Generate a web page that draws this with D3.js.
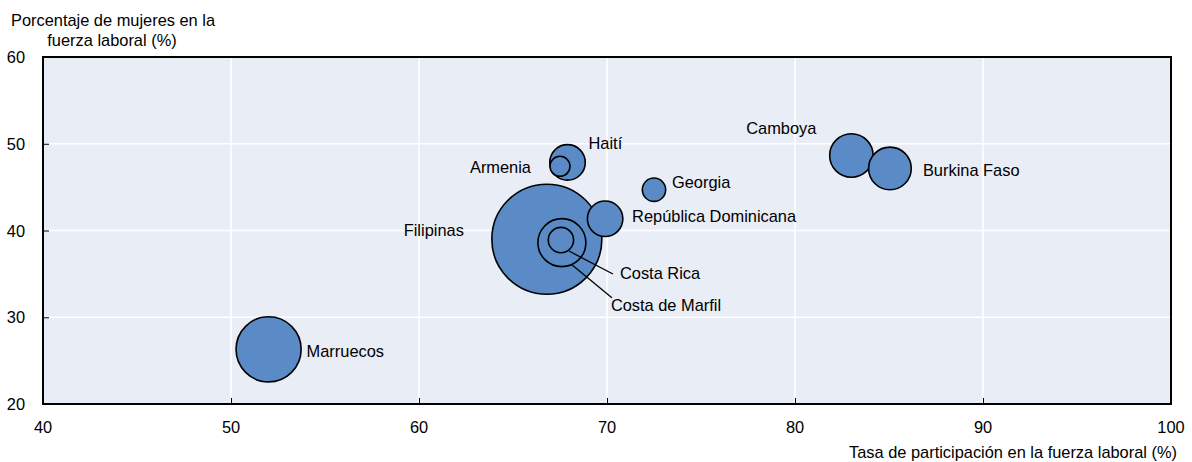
<!DOCTYPE html>
<html>
<head>
<meta charset="utf-8">
<script src="https://cdn.jsdelivr.net/npm/d3@7"></script>
<style>
	body { margin: 0; background: #fff; }
	svg { display: block; font-family: "Liberation Sans", Arial, sans-serif; }
	.lbl { font-size: 16.4px; fill: #000; }
</style>
</head>
<body>
<div id="chart"></div>
<script>
	// data
	var countries = ['Filipinas', 'Marruecos', 'Costa de Marfil', 'Camboya', 'Burkina Faso',
		'Haití', 'República Dominicana', 'Costa Rica', 'Georgia', 'Armenia'];
	var participation = [66.8, 52.0, 67.6, 83.0, 85.05, 67.9, 69.9, 67.55, 72.5, 67.5];
	var womenShare = [39.0, 26.3, 38.6, 48.65, 47.15, 47.85, 41.35, 38.9, 44.7, 47.4];
	var bubbleSize = [100, 35, 19, 15.6, 15, 10.4, 10.4, 5.3, 4.5, 3.3];

	var xTicks = [40, 50, 60, 70, 80, 90, 100];
	var yTicks = [20, 30, 40, 50, 60];

	// label placement (offset from bubble centre, px)
	var labelPlace = {
		'Filipinas': { dx: -83, dy: -3, anchor: 'end' },
		'Marruecos': { dx: 38, dy: 8, anchor: 'start' },
		'Costa de Marfil': { dx: 49, dy: 68, anchor: 'start', leader: [10, 22, 50, 55] },
		'Camboya': { dx: -35, dy: -21, anchor: 'end' },
		'Burkina Faso': { dx: 33, dy: 8, anchor: 'start' },
		'Haití': { dx: 21, dy: -13, anchor: 'start' },
		'República Dominicana': { dx: 27, dy: 3, anchor: 'start' },
		'Costa Rica': { dx: 59, dy: 39, anchor: 'start', leader: [8, 11, 52, 34] },
		'Georgia': { dx: 18, dy: -2, anchor: 'start' },
		'Armenia': { dx: -29, dy: 7, anchor: 'end' }
	};

	(function () {

		var width = 1192, height = 462;
		var pLeft = 43, pRight = 1171, pTop = 57, pBottom = 404;

		var x = d3.scaleLinear().domain([40, 100]).range([pLeft, pRight]);
		var y = d3.scaleLinear().domain([20, 60]).range([pBottom, pTop]);
		var r = d3.scaleSqrt().domain([0, 100]).range([0, 55]);

		var svg = d3.select('#chart').append('svg')
			.attr('width', width)
			.attr('height', height);

		svg.append('rect')
			.attr('x', pLeft).attr('y', pTop)
			.attr('width', pRight - pLeft).attr('height', pBottom - pTop)
			.style('fill', '#e9edf6');

		// gridlines
		svg.append('g').selectAll('line').data(xTicks.slice(1, -1))
			.enter().append('line')
			.attr('x1', function (d) { return x(d); })
			.attr('x2', function (d) { return x(d); })
			.attr('y1', pTop).attr('y2', pBottom)
			.style('stroke', '#fff').style('stroke-width', 1.5);

		svg.append('g').selectAll('line').data(yTicks.slice(1, -1))
			.enter().append('line')
			.attr('y1', function (d) { return y(d); })
			.attr('y2', function (d) { return y(d); })
			.attr('x1', pLeft).attr('x2', pRight)
			.style('stroke', '#fff').style('stroke-width', 1.5);

		// axes (inner ticks)
		var xAxis = svg.append('g')
			.attr('transform', 'translate(0,' + pBottom + ')')
			.call(d3.axisTop(x).tickValues(xTicks).tickSize(6).tickFormat(''));
		xAxis.select('.domain').remove();
		xAxis.selectAll('.tick line').style('stroke', '#000');

		var yAxis = svg.append('g')
			.attr('transform', 'translate(' + pLeft + ',0)')
			.call(d3.axisRight(y).tickValues(yTicks).tickSize(6).tickFormat(''));
		yAxis.select('.domain').remove();
		yAxis.selectAll('.tick line').style('stroke', '#000');

		svg.append('g').selectAll('text').data(xTicks)
			.enter().append('text')
			.attr('class', 'lbl')
			.attr('x', function (d) { return x(d); })
			.attr('y', 433)
			.attr('text-anchor', 'middle')
			.text(function (d) { return d; });

		svg.append('g').selectAll('text').data(yTicks)
			.enter().append('text')
			.attr('class', 'lbl')
			.attr('x', 25)
			.attr('y', function (d) { return y(d) + 6; })
			.attr('text-anchor', 'end')
			.text(function (d) { return d; });

		svg.append('rect')
			.attr('x', pLeft).attr('y', pTop)
			.attr('width', pRight - pLeft).attr('height', pBottom - pTop)
			.style('fill', 'none').style('stroke', '#000').style('stroke-width', 2);

		// axis titles
		var yTitle = svg.append('text').attr('class', 'lbl').attr('text-anchor', 'middle');
		yTitle.append('tspan').attr('x', 113).attr('y', 26).text('Porcentaje de mujeres en la');
		yTitle.append('tspan').attr('x', 112).attr('y', 46).text('fuerza laboral (%)');

		svg.append('text').attr('class', 'lbl')
			.attr('x', 1177).attr('y', 458)
			.attr('text-anchor', 'end')
			.text('Tasa de participación en la fuerza laboral (%)');

		// bubbles, biggest first
		var rows = countries.map(function (c, i) {
			return { name: c, px: participation[i], py: womenShare[i], size: bubbleSize[i] };
		}).sort(function (a, b) { return b.size - a.size; });

		svg.append('g').selectAll('circle').data(rows)
			.enter().append('circle')
			.attr('cx', function (d) { return x(d.px); })
			.attr('cy', function (d) { return y(d.py); })
			.attr('r', function (d) { return r(d.size); })
			.style('fill', '#5a8bc6')
			.style('stroke', '#000')
			.style('stroke-width', 1.6);

		// leader lines
		svg.append('g').selectAll('line').data(rows.filter(function (d) { return labelPlace[d.name].leader; }))
			.enter().append('line')
			.attr('x1', function (d) { return x(d.px) + labelPlace[d.name].leader[0]; })
			.attr('y1', function (d) { return y(d.py) + labelPlace[d.name].leader[1]; })
			.attr('x2', function (d) { return x(d.px) + labelPlace[d.name].leader[2]; })
			.attr('y2', function (d) { return y(d.py) + labelPlace[d.name].leader[3]; })
			.style('stroke', '#000').style('stroke-width', 1.3);

		svg.append('g').selectAll('text').data(rows)
			.enter().append('text')
			.attr('class', 'lbl')
			.attr('x', function (d) { return x(d.px) + labelPlace[d.name].dx; })
			.attr('y', function (d) { return y(d.py) + labelPlace[d.name].dy; })
			.attr('text-anchor', function (d) { return labelPlace[d.name].anchor; })
			.text(function (d) { return d.name; });

	})();
</script>
</body>
</html>
